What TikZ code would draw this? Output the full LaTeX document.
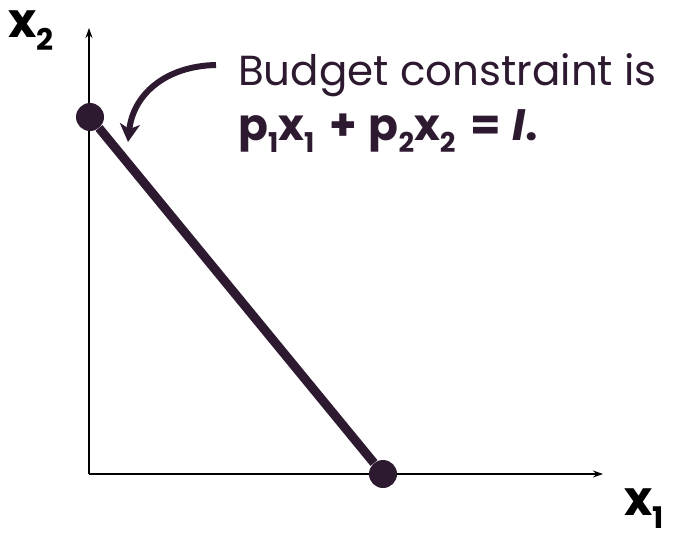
\documentclass[tikz,border=0pt]{standalone}
\usepackage{fontspec}
\setmainfont{Poppins}
\usetikzlibrary{arrows.meta}
\definecolor{plum}{HTML}{2E1A30}
\newcommand{\lowsub}[1]{\raisebox{-0.28em}{\fontsize{0.62em}{0.7em}\selectfont #1}}

\begin{document}
\begin{tikzpicture}[
  x=1pt, y=-1pt,
  axis/.style={-{Stealth[length=10pt, width=7pt]}, line width=1.1pt, black},
  dot/.style={circle, fill=plum, inner sep=0pt, minimum size=28pt},
  budget/.style={plum, line width=9pt},
  pointer/.style={plum, line width=6pt, -{Stealth[length=18pt, width=20pt, inset=5pt]}},
  lbl/.style={anchor=base west, text=plum, inner sep=0pt},
  axlbl/.style={anchor=base west, inner sep=0pt, font=\fontsize{48}{52}\selectfont\bfseries}
]
\useasboundingbox (0,0) rectangle (679,538);

% ---- axes ----
\coordinate (origin) at (89,474);
\coordinate (ytip) at (89,28);
\coordinate (xtip) at (603,474);
\draw[axis] (origin) -- (ytip);
\draw[axis] (origin) -- (xtip);

\node[axlbl] (xtwo) at (8,37) {x\lowsub{2}};
\node[axlbl] (xone) at (624,515) {x\lowsub{1}};

% ---- budget line ----
\node[dot] (top) at (90,117) {};
\node[dot] (bot) at (383,474) {};
\draw[budget] (top) -- (bot);

% ---- label and pointer ----
\node[lbl, font=\fontsize{42}{46}\selectfont] (title) at (238,85) {Budget constraint is};
\node[lbl, font=\fontsize{44}{48}\selectfont\bfseries] (eqn) at (238,140)
  {p\lowsub{1}x\lowsub{1}\hspace{0.12em} + \hspace{0.06em}p\lowsub{2}x\lowsub{2}\hspace{0.12em} = \hspace{0.06em}\textit{I}.};
\coordinate (tail) at (216,65);
\draw[pointer] (tail) .. controls (165,66) and (133,95) .. (128,142);
\end{tikzpicture}
\end{document}
